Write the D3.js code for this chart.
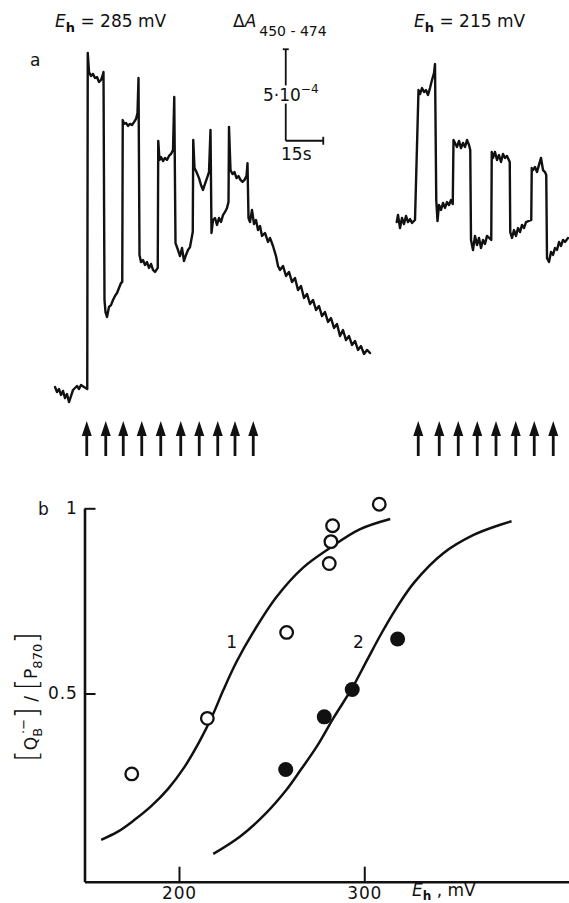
<!DOCTYPE html>
<html><head><meta charset="utf-8">
<script src="https://cdn.jsdelivr.net/npm/d3@7"></script>
<style>
html,body{margin:0;padding:0;background:#fff;}
svg{display:block;}
text{font-family:"DejaVu Sans",sans-serif;fill:#111;}
</style>
</head><body>
<svg id="chart" width="569" height="903"></svg>
<script>
// ---------- Panel a: kinetic traces (time in s, ΔA in units of 1e-4) ----------
const traceLeft = [
[0,0.16],[0.8,-0.11],[1.6,0.05],[2.4,-0.27],[3.2,-0.05],[4,-0.44],[4.8,-0.22],[5.6,-0.66],[6.4,-0.33],[7.2,0],[8,0.11],[8.8,0.22],[9.6,0.05],[10.4,0.27],[11.6,0.16],[12.9,0.05],
[13.1,18.42],[13.6,17.38],[14.4,17.16],[15.2,17.27],[16,17.05],[16.8,17.1],[17.6,16.83],[18.4,16.94],[19,17.16],[19.4,17.38],
[19.8,4.92],[20.2,4.26],[20.8,3.99],[21.6,4.54],[22.4,4.64],[23.2,4.92],[24,5.14],[24.8,5.3],[25.6,5.57],[26.4,5.85],[26.9,5.9],
[27.1,14.75],[27.6,14.54],[28.4,14.59],[29.2,14.43],[30,14.54],[30.8,14.48],[31.6,14.64],[32.4,14.81],[33,15.14],[33.4,17.05],
[33.8,7.38],[34.4,6.99],[35.2,7.1],[36,6.83],[36.8,6.99],[37.6,6.67],[38.4,6.89],[39.2,6.56],[40,6.45],[41.1,6.67],
[41.3,13.61],[41.8,12.57],[42.4,12.73],[43.2,12.51],[44,12.68],[44.8,12.57],[45.6,12.79],[46.4,12.9],[47.2,13.11],[47.7,16.01],
[48.2,8.03],[49.2,7.65],[50,7.32],[50.8,7.76],[51.6,7.05],[52.4,7.38],[53.2,7.65],[54,7.81],[55.1,8.63],
[55.3,13.66],[55.8,12.13],[56.6,11.91],[57.6,11.58],[58.4,11.2],[59.2,10.93],[60,11.26],[60.8,11.58],[61.6,11.91],[62.2,14.21],
[62.6,8.58],[63.2,9.29],[64,9.4],[64.8,9.02],[65.6,9.4],[66.4,9.18],[67.2,9.56],[68,9.73],[68.8,9.95],[69.4,10.27],
[69.6,14.37],[70.2,12.02],[71,11.8],[71.8,11.91],[72.6,11.58],[73.4,11.69],[74.2,11.48],[75,11.37],[75.8,11.48],[76.6,11.69],[77,12.4],
[77.4,9.4],[78,9.18],[78.8,9.84],[79.6,9.07],[80.4,9.29],[81.2,8.74],[82,8.96],[82.8,8.42],[84,8.58],[85.2,8.09],[86,8.31],[87.2,7.87],
[88.4,7.32],[89.2,6.78],[90,6.56],[91.2,6.78],[92.4,6.23],[93.6,6.45],[94.8,5.9],[96,6.12],[97.2,5.46],[98.4,5.68],[99.6,5.03],[100.8,5.25],
[102,4.7],[103.2,4.92],[104.4,4.37],[105.6,4.59],[106.8,4.04],[108,4.26],[109.2,3.72],[110.4,3.93],[111.6,3.39],[112.8,3.61],[114,2.95],
[115.2,3.28],[116.4,2.73],[117.6,2.95],[118.8,2.46],[120,2.68],[121.2,2.19],[122.4,2.4],[123.6,1.97],[124.8,2.19],[126,2.02]
];
const traceRight = [
[136.7,9.18],[137.2,9.56],[138,8.85],[138.8,9.4],[139.6,9.07],[140.4,9.51],[141.2,9.18],[142,9.34],[142.8,9.13],[144,9.29],
[145.4,16.39],[146,16.17],[146.8,16.5],[147.6,16.28],[148.4,16.39],[149.2,16.12],[150,16.5],[150.8,16.94],[151.6,17.32],[152,17.81],
[152.5,10.38],[153,9.23],[153.6,10.11],[154.4,9.84],[155.2,10.22],[156,9.95],[156.8,10.27],[157.6,10.11],[158.4,10.38],[159.1,10.16],
[159.4,13.66],[160,13.5],[160.8,13.28],[161.6,13.61],[162.4,13.22],[163.2,13.5],[164,13.28],[164.8,13.66],[165.6,13.39],[166.1,13.11],
[166.4,8.2],[167.2,7.65],[168,8.42],[168.8,7.92],[169.6,8.31],[170.4,7.76],[171.2,8.2],[172,7.98],[172.8,8.42],[174.5,8.2],
[174.7,13.01],[175.2,12.68],[176,13.01],[176.8,12.57],[177.6,12.84],[178.4,12.46],[179.2,12.9],[180,12.68],[180.8,12.79],[181.9,12.46],
[182.1,8.63],[182.8,8.31],[183.6,8.74],[184.4,8.42],[185.2,8.85],[186,8.63],[186.8,9.02],[187.6,8.85],[188.4,9.18],[190.5,9.29],
[190.7,12.13],[191.2,12.02],[192,12.19],[192.8,11.91],[193.6,12.3],[194.4,12.68],[195.2,12.02],[196,11.91],[196.5,11.75],
[196.8,7.21],[197.6,6.99],[198.4,7.54],[199.2,7.38],[200,7.76],[200.8,7.65],[201.6,8.09],[202.4,7.87],[203.2,8.2],[204,8.09],[205.2,8.31]
];
const flashesLeft = [12.7,20.3,27.3,34.7,42.3,50.3,57.7,65.1,72,79.3];
const flashesRight = [145.3,153.7,161.3,168.9,176.4,184.3,191.7,199.3];

// ---------- Panel b: redox titration ----------
const curve1 = [[158,0.105],[167,0.127],[176,0.159],[185,0.196],[194,0.242],[203,0.302],[211,0.37],[218,0.44],[224,0.51],[231,0.585],[240,0.665],[252.5,0.76],[267,0.84],[281.5,0.893],[297.5,0.943],[314,0.971]];
const curve2 = [[218.5,0.067],[233,0.114],[247,0.177],[258,0.24],[266,0.296],[274.5,0.358],[283.5,0.435],[293.5,0.515],[301.5,0.59],[309,0.66],[317,0.728],[327,0.8],[342.5,0.878],[359,0.928],[373,0.955],[379.5,0.965]];
const openPts = [[174.5,0.283],[215.3,0.433],[258.1,0.665],[281.1,0.851],[282,0.91],[282.9,0.953],[308.1,1.011]];
const filledPts = [[257.6,0.295],[278.4,0.437],[293.5,0.511],[318,0.647]];
const xTicks = [200, 300];
const yTicks = [0.5, 1];

const svg = d3.select("#chart");
const ink = "#111";

// ===== Panel a =====
const xA = d3.scaleLinear().domain([0, 205.6]).range([55, 569]);
const yA = d3.scaleLinear().domain([0, 5]).range([390, 298.5]);
const lineA = d3.line().x(d => xA(d[0])).y(d => yA(d[1]));
[traceLeft, traceRight].forEach(tr => {
  svg.append("path").attr("d", lineA(tr)).attr("fill","none").attr("stroke",ink)
    .attr("stroke-width",2.4).attr("stroke-linejoin","round").attr("stroke-linecap","round");
});

// scale bar: 5e-4 (5 units) and 15 s
const sbT = 92.3, sbA0 = 13.62;
const sb = svg.append("g").attr("stroke",ink).attr("stroke-width",1.8).attr("fill","none");
sb.append("line").attr("x1",xA(sbT)).attr("x2",xA(sbT)).attr("y1",yA(sbA0)).attr("y2",yA(sbA0+5));
sb.append("line").attr("x1",xA(sbT)-3).attr("x2",xA(sbT)+3).attr("y1",yA(sbA0+5)).attr("y2",yA(sbA0+5));
sb.append("line").attr("x1",xA(sbT)).attr("x2",xA(sbT+15)).attr("y1",yA(sbA0)).attr("y2",yA(sbA0));
sb.append("line").attr("x1",xA(sbT+15)).attr("x2",xA(sbT+15)).attr("y1",yA(sbA0)-4).attr("y2",yA(sbA0)+4);
const sbl = svg.append("text").attr("x",263).attr("y",101).attr("font-size",17)
  .attr("stroke","#fff").attr("stroke-width",5).attr("paint-order","stroke");
sbl.append("tspan").text("5·10");
sbl.append("tspan").attr("font-size",12).attr("dy",-8).text("−4");
svg.append("text").attr("x",281).attr("y",160).attr("font-size",17).text("15s");

// flash arrows
function arrows(list) {
  list.forEach(t => {
    const x = xA(t);
    svg.append("line").attr("x1",x).attr("x2",x).attr("y1",432).attr("y2",456)
      .attr("stroke",ink).attr("stroke-width",2.8);
    svg.append("path").attr("d",`M${x},${421}L${x+5},${436}L${x-5},${436}Z`).attr("fill",ink);
  });
}
arrows(flashesLeft); arrows(flashesRight);

// titles
function eh(x, val) {
  const t = svg.append("text").attr("x",x).attr("y",27).attr("font-size",17);
  t.append("tspan").attr("font-style","italic").text("E");
  t.append("tspan").attr("font-size",13).attr("font-weight","bold").attr("dy",5).text("h");
  t.append("tspan").attr("dy",-5).text(" = " + val + " mV");
}
eh(55, "285"); eh(414, "215");
const da = svg.append("text").attr("x",233).attr("y",27).attr("font-size",17);
da.append("tspan").text("Δ");
da.append("tspan").attr("font-style","italic").text("A");
da.append("tspan").attr("font-size",14).attr("dy",9).attr("dx",3).text("450 - 474");
svg.append("text").attr("x",30).attr("y",66).attr("font-size",17).text("a");

// ===== Panel b =====
const xB = d3.scaleLinear().domain([149, 410.5]).range([84.5, 569]);
const yB = d3.scaleLinear().domain([-0.008, 1]).range([881.7, 508.3]);

const gx = svg.append("g").attr("transform",`translate(0,${yB(-0.008)})`)
  .call(d3.axisBottom(xB).tickValues(xTicks).tickSizeInner(-15).tickSizeOuter(0).tickPadding(5).tickFormat(d3.format("d")));
const gy = svg.append("g").attr("transform",`translate(${xB(149)},0)`)
  .call(d3.axisLeft(yB).tickValues(yTicks).tickSizeInner(-11).tickSizeOuter(0).tickPadding(7).tickFormat(d => d === 1 ? "1" : "0.5"));
[gx, gy].forEach(g => {
  g.select(".domain").attr("stroke",ink).attr("stroke-width",2.6);
  g.selectAll(".tick line").attr("stroke",ink).attr("stroke-width",2);
  g.selectAll(".tick text").attr("font-size",17).attr("font-family","DejaVu Sans").attr("fill",ink).attr("letter-spacing",0.8);
});

const lineB = d3.line().x(d => xB(d[0])).y(d => yB(d[1])).curve(d3.curveCatmullRom.alpha(0.5));
[curve1, curve2].forEach(c => {
  svg.append("path").attr("d", lineB(c)).attr("fill","none").attr("stroke",ink).attr("stroke-width",2.5);
});
svg.selectAll("circle.open").data(openPts).join("circle").attr("class","open")
  .attr("cx",d => xB(d[0])).attr("cy",d => yB(d[1])).attr("r",6.3)
  .attr("fill","#fff").attr("stroke",ink).attr("stroke-width",2.3);
svg.selectAll("circle.filled").data(filledPts).join("circle").attr("class","filled")
  .attr("cx",d => xB(d[0])).attr("cy",d => yB(d[1])).attr("r",7.5).attr("fill",ink);

svg.append("text").attr("x",231.7).attr("y",648).attr("font-size",17).attr("text-anchor","middle").text("1");
svg.append("text").attr("x",358.3).attr("y",648).attr("font-size",17).attr("text-anchor","middle").text("2");
svg.append("text").attr("x",38).attr("y",515).attr("font-size",17).text("b");

// x-axis title
const xt = svg.append("text").attr("x",412).attr("y",896).attr("font-size",17);
xt.append("tspan").attr("font-style","italic").text("E");
xt.append("tspan").attr("font-size",12).attr("font-weight","bold").attr("dy",4).text("h");
xt.append("tspan").attr("dy",-4).text(" , mV");

// y-axis title (rotated)
const yt = svg.append("text").attr("transform","translate(37,697) rotate(-90)").attr("text-anchor","middle").attr("font-size",17);
yt.append("tspan").attr("font-size",30).attr("font-weight",300).text("[");
yt.append("tspan").text("Q");
yt.append("tspan").attr("font-size",13).attr("dy",5).text("B");
yt.append("tspan").attr("font-size",13).attr("dy",-14).attr("dx",-6).text("·−");
yt.append("tspan").attr("font-size",30).attr("font-weight",300).attr("dy",9).text("]");
yt.append("tspan").text("  /  ");
yt.append("tspan").attr("font-size",30).attr("font-weight",300).text("[");
yt.append("tspan").text("P");
yt.append("tspan").attr("font-size",13).attr("dy",5).text("870");
yt.append("tspan").attr("font-size",30).attr("font-weight",300).attr("dy",-5).text("]");
</script>
</body></html>
